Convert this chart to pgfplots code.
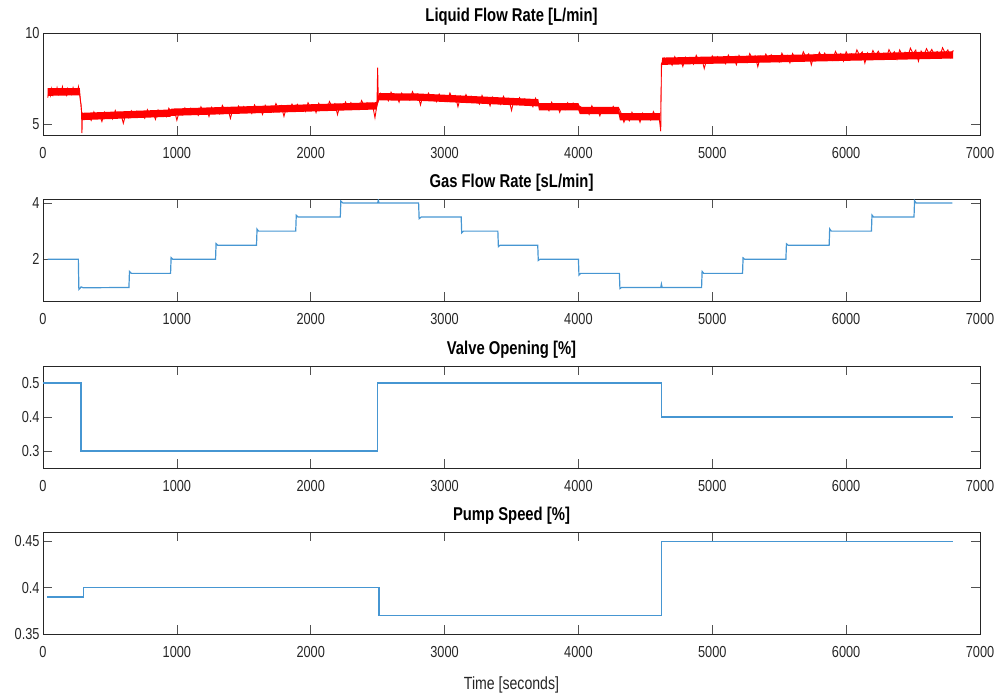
\documentclass[border=0pt]{standalone}
\usepackage{fontspec}
\setmainfont{Liberation Sans}[FakeStretch=0.8]
\usepackage{pgfplots}
\pgfplotsset{compat=1.18}
\definecolor{mred}{RGB}{255,0,0}
\definecolor{mblue}{RGB}{0,114,189}
\definecolor{lblue}{RGB}{70,150,210}
\definecolor{axgray}{RGB}{38,38,38}
\pgfplotsset{panel/.style={
  scale only axis, width=937bp, height=102bp, anchor=north west,
  xmin=0, xmax=7000, xtick={0,1000,...,7000},
  tick align=inside, tick pos=both, major tick length=9bp,
  axis line style={axgray, line width=0.6bp},
  tick style={axgray!80, line width=0.6bp},
  ticklabel style={font=\fontsize{16}{16}\selectfont, text=axgray},
  xticklabel style={yshift=-9bp},
  /pgf/number format/assume math mode=true,
  /pgf/number format/1000 sep={},
  title style={font=\bfseries\fontsize{18.6}{18.6}\selectfont, text=black, yshift=-2bp},
  label style={font=\fontsize{17.7}{17.7}\selectfont, text=axgray},
  xlabel style={yshift=-12bp},
}}
\begin{document}
\begin{tikzpicture}
\path[use as bounding box] (0,0) rectangle (1004bp,-695bp);
% Panel 1
\begin{axis}[panel, at={(43bp,-33bp)}, ymin=4.4, ymax=10, ytick={5,10},
  title={Liquid Flow Rate [L/min]}]
\addplot[fill=mred, draw=none] coordinates {
(35,6.55)(275,6.58)(290,5.22)(300,5.22)(950,5.40)(960,5.45)(2490,5.80)(2510,6.30)(2800,6.28)
(3700,5.97)(3705,5.75)(4000,5.75)(4010,5.55)(4300,5.55)(4310,5.20)(4610,5.20)(4625,8.25)(6800,8.60)
(6800,9.00)(4625,8.65)(4610,5.60)(4310,5.60)(4300,5.95)(4010,5.95)(4000,6.15)(3705,6.15)(3700,6.37)
(2800,6.68)(2510,6.70)(2490,6.20)(960,5.85)(950,5.80)(300,5.62)(290,5.62)(275,6.98)(35,6.98)
};
\addplot[mred, line width=0.9bp] coordinates {
(35,6.45)(45,6.75)(55,6.55)(65,6.95)(75,6.6)(85,6.85)(95,6.7)(105,7.0)(115,6.65)(125,6.9)
(135,6.75)(145,7.05)(155,6.7)(165,6.85)(175,6.6)(185,6.95)(195,6.72)(205,6.9)(215,6.65)(225,7.0)
(235,6.78)(245,6.92)(255,6.7)(265,7.05)(272,6.7)(278,6.35)(284,6.1)(288,5.7)(291,4.5)(295,5.6)
(300,5.58)(320,5.29)(340,5.46)(360,5.20)(380,5.67)(400,5.38)(420,5.55)(440,5.14)(460,5.65)(480,5.35)
(500,5.54)(520,5.28)(540,5.75)(560,5.46)(580,5.63)(600,5.04)(620,5.59)(640,5.35)(660,5.73)(680,5.43)
(700,5.70)(720,5.40)(740,5.58)(760,5.32)(780,5.79)(800,5.50)(820,5.67)(840,5.26)(860,5.77)(880,5.47)
(900,5.66)(920,5.40)(940,5.87)(960,5.63)(980,5.80)(1000,5.21)(1020,5.76)(1040,5.52)(1060,5.89)(1080,5.60)
(1100,5.86)(1120,5.57)(1140,5.74)(1160,5.48)(1180,5.95)(1200,5.66)(1220,5.83)(1240,5.42)(1260,5.92)(1280,5.63)
(1300,5.81)(1320,5.56)(1340,6.02)(1360,5.73)(1380,5.90)(1400,5.31)(1420,5.86)(1440,5.62)(1460,5.99)(1480,5.70)
(1500,5.96)(1520,5.67)(1540,5.84)(1560,5.58)(1580,6.05)(1600,5.77)(1620,5.94)(1640,5.53)(1660,6.03)(1680,5.74)
(1700,5.92)(1720,5.67)(1740,6.13)(1760,5.84)(1780,6.01)(1800,5.42)(1820,5.97)(1840,5.73)(1860,6.10)(1880,5.81)
(1900,6.08)(1920,5.78)(1940,5.96)(1960,5.69)(1980,6.17)(2000,5.87)(2020,6.05)(2040,5.63)(2060,6.14)(2080,5.84)
(2100,6.03)(2120,5.77)(2140,6.24)(2160,5.94)(2180,6.12)(2200,5.52)(2220,6.08)(2240,5.83)(2260,6.21)(2280,5.91)
(2300,6.18)(2320,5.88)(2340,6.05)(2360,5.82)(2380,6.29)(2400,5.99)(2420,6.17)(2440,5.87)(2460,6.12)(2480,5.35)
(2495,6.05)(2500,8.1)(2505,6.3)(2520,6.68)(2540,6.38)(2560,6.55)(2580,6.28)(2600,6.75)(2620,6.45)(2640,6.62)
(2660,6.20)(2680,6.70)(2700,6.40)(2720,6.58)(2740,6.32)(2760,6.78)(2780,6.48)(2800,6.65)(2820,6.05)(2840,6.60)
(2860,6.35)(2880,6.70)(2900,6.40)(2920,6.57)(2940,6.23)(2960,6.65)(2980,6.33)(3000,6.50)(3020,6.25)(3040,6.70)
(3060,6.40)(3080,6.56)(3100,5.95)(3120,6.52)(3140,6.27)(3160,6.62)(3180,6.32)(3200,6.52)(3220,6.20)(3240,6.38)
(3260,6.10)(3280,6.57)(3300,6.25)(3320,6.42)(3340,6.00)(3360,6.48)(3380,6.18)(3400,6.36)(3420,6.08)(3440,6.52)
(3460,6.24)(3480,6.40)(3500,5.75)(3520,6.35)(3540,6.07)(3560,6.45)(3580,6.15)(3600,6.38)(3620,6.05)(3640,6.22)
(3660,5.95)(3680,6.42)(3700,6.12)(3720,6.13)(3740,5.83)(3760,6.00)(3780,5.73)(3800,6.20)(3820,5.90)(3840,6.07)
(3860,5.65)(3880,6.05)(3900,5.80)(3920,6.17)(3940,5.87)(3960,6.15)(3980,5.85)(4000,6.02)(4020,5.93)(4040,5.63)
(4060,5.80)(4080,5.53)(4100,6.00)(4120,5.70)(4140,5.87)(4160,5.45)(4180,5.85)(4200,5.60)(4220,5.83)(4240,5.67)
(4260,5.97)(4280,5.73)(4300,5.90)(4320,5.58)(4340,5.10)(4360,5.45)(4380,5.18)(4400,5.65)(4420,5.35)(4440,5.52)
(4460,5.10)(4480,5.60)(4500,5.30)(4520,5.48)(4540,5.22)(4560,5.68)(4580,5.38)(4600,5.55)(4615,4.6)(4620,8.3)
(4640,8.63)(4660,8.33)(4680,8.50)(4700,8.23)(4720,8.70)(4740,8.40)(4760,8.57)(4780,8.16)(4800,8.66)(4820,8.36)
(4840,8.54)(4860,8.29)(4880,8.77)(4900,8.48)(4920,8.64)(4940,8.05)(4960,8.61)(4980,8.37)(5000,8.74)(5020,8.46)
(5040,8.70)(5060,8.40)(5080,8.57)(5100,8.31)(5120,8.79)(5140,8.50)(5160,8.67)(5180,8.26)(5200,8.77)(5220,8.47)
(5240,8.65)(5260,8.39)(5280,8.87)(5300,8.58)(5320,8.75)(5340,8.15)(5360,8.71)(5380,8.46)(5400,8.84)(5420,8.56)
(5440,8.80)(5460,8.50)(5480,8.68)(5500,8.41)(5520,8.89)(5540,8.60)(5560,8.77)(5580,8.36)(5600,8.87)(5620,8.57)
(5640,8.75)(5660,8.49)(5680,8.97)(5700,8.68)(5720,8.86)(5740,8.25)(5760,8.81)(5780,8.56)(5800,8.94)(5820,8.66)
(5840,8.90)(5860,8.60)(5880,8.78)(5900,8.51)(5920,8.99)(5940,8.70)(5960,8.87)(5980,8.46)(6000,8.97)(6020,8.67)
(6040,8.85)(6060,8.59)(6080,9.07)(6100,8.78)(6120,8.96)(6140,8.35)(6160,8.91)(6180,8.66)(6200,9.04)(6220,8.76)
(6240,9.00)(6260,8.70)(6280,8.88)(6300,8.61)(6320,9.09)(6340,8.80)(6360,8.97)(6380,8.56)(6400,9.07)(6420,8.77)
(6440,8.95)(6460,8.69)(6480,9.17)(6500,8.88)(6520,9.06)(6540,8.45)(6560,9.01)(6580,8.76)(6600,9.14)(6620,8.86)
(6640,9.10)(6660,8.80)(6680,8.98)(6700,8.71)(6720,9.19)(6740,8.90)(6760,9.07)(6780,8.66)(6800,9.05)
};
\end{axis}
% Panel 2
\begin{axis}[panel, at={(43bp,-199bp)}, ymin=0.52, ymax=4.14, ytick={2,4},
  title={Gas Flow Rate [sL/min]}]
\addplot[lblue, line width=1.2bp] coordinates {
(35,2.0)(264,2.0)(268,0.93)(285,1.02)(300,0.99)(642,1.0)(646,1.57)(660,1.5)(953,1.5)(957,2.06)(970,2.0)
(1289,2.0)(1293,2.56)(1305,2.5)(1595,2.5)(1599,3.07)(1610,3.0)(1888,3.0)(1892,3.56)(1905,3.5)
(2221,3.5)(2225,4.07)(2240,4.0)(2500,4.0)(2505,4.1)(2510,4.0)(2806,4.0)(2810,3.44)(2825,3.5)
(3124,3.5)(3128,2.94)(3140,3.0)(3398,3.0)(3402,2.45)(3415,2.5)(3696,2.5)(3700,1.96)(3712,2.0)
(4000,2.0)(4004,1.44)(4016,1.5)(4306,1.5)(4310,0.96)(4322,1.0)(4615,1.0)(4620,1.12)(4625,1.0)
(4920,1.0)(4924,1.57)(4936,1.5)(5226,1.5)(5230,2.05)(5242,2.0)(5550,2.0)(5554,2.55)(5566,2.5)
(5873,2.5)(5877,3.08)(5889,3.0)(6189,3.0)(6193,3.57)(6205,3.5)(6507,3.5)(6511,4.08)(6523,4.0)(6793,4.0)
};
\end{axis}
% Panel 3
\begin{axis}[panel, at={(43bp,-366bp)}, ymin=0.25, ymax=0.55, ytick={0.3,0.4,0.5},
  title={Valve Opening [\%]}]
\addplot[lblue, line width=1.2bp] coordinates {
(0,0.5)(284,0.5)(284,0.3)(2500,0.3)(2500,0.5)(4620,0.5)(4620,0.4)(6800,0.4)
};
\end{axis}
% Panel 4
\begin{axis}[panel, at={(43bp,-532bp)}, ymin=0.35, ymax=0.46, ytick={0.35,0.4,0.45},
  title={Pump Speed [\%]}, xlabel={Time [seconds]}]
\addplot[lblue, line width=1.2bp] coordinates {
(32,0.39)(301,0.39)(301,0.4)(2510,0.4)(2510,0.37)(4620,0.37)(4620,0.45)(6800,0.45)
};
\end{axis}
\end{tikzpicture}
\end{document}
